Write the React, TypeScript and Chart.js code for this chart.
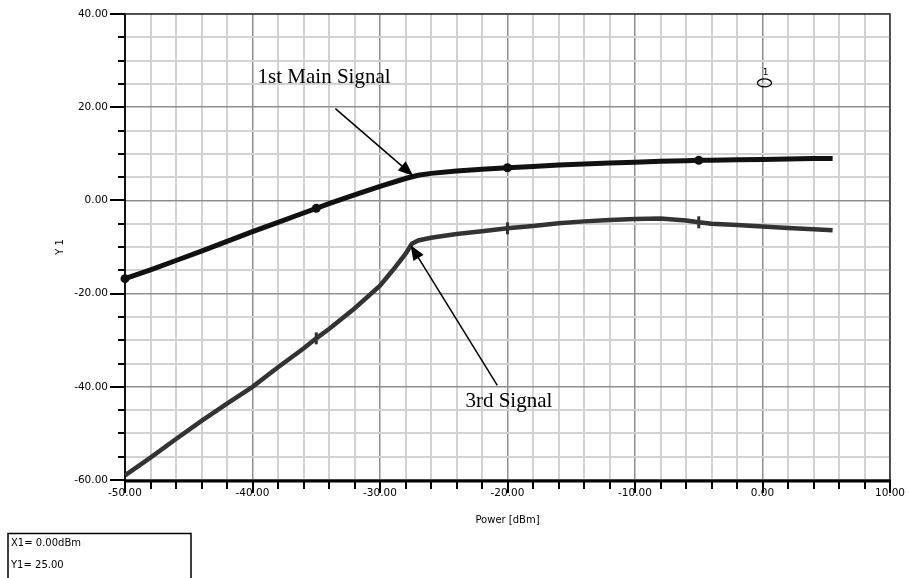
import React, { useEffect, useRef } from 'react';
import { Chart, registerables } from 'chart.js';

Chart.register(...registerables);

// ---- data ----
const mainPower = [-50, -48, -46, -44, -42, -40, -38, -36, -35, -34, -32, -30, -28, -27, -26, -24, -22, -20, -18, -16, -14, -12, -10, -8, -6, -5, -4, -2, 0, 2, 4, 5.5];
const mainY1 = [-16.8, -14.9, -12.9, -10.9, -8.8, -6.7, -4.7, -2.7, -1.7, -0.7, 1.2, 3.0, 4.7, 5.4, 5.8, 6.3, 6.7, 7.0, 7.3, 7.6, 7.8, 8.0, 8.2, 8.4, 8.5, 8.6, 8.6, 8.7, 8.8, 8.9, 9.0, 9.0];

const thirdPower = [-50, -48, -46, -44, -42, -40, -38, -36, -35, -34, -32, -30, -29, -28, -27.5, -27, -26, -24, -22, -20, -18, -16, -14, -12, -10, -8, -6, -5, -4, -2, 0, 2, 4, 5.5];
const thirdY1 = [-59, -55.2, -51.2, -47.3, -43.6, -40, -35.8, -31.8, -29.6, -27.6, -23.2, -18.3, -15.0, -11.5, -9.3, -8.6, -8.0, -7.2, -6.6, -6.0, -5.5, -4.9, -4.5, -4.2, -4.0, -3.9, -4.3, -4.7, -5.0, -5.3, -5.6, -5.9, -6.2, -6.4];

const mainMarkerPower = [-50, -35, -20, -5];
const thirdMarkerPower = [-35, -20, -5];

const xMin = -50, xMax = 10, xMajor = 10, xMinor = 2;
const yMin = -60, yMax = 40, yMajor = 20, yMinor = 5;

const markerName = ['1'];
const markerPower = [0];
const markerY1 = [25];
const readoutLines = ['X1= 0.00dBm', 'Y1= 25.00'];

const xTitle = 'Power [dBm]';
const yTitle = 'Y 1';

const annotationTexts = ['1st Main Signal', '3rd Signal'];
// annotation anchors in data units: text (x,y), arrow start (x,y), arrow tip (x,y)
const annotationTextX = [-39.6, -23.3];
const annotationTextY = [25.1, -44.4];
const arrowFromX = [-33.5, -20.8];
const arrowFromY = [19.7, -39.7];
const arrowToX = [-27.4, -27.6];
const arrowToY = [5.3, -9.6];

const TICK_FONT = 'DejaVu Sans';

const overlay = {
  id: 'overlay',
  beforeDatasetsDraw(chart: any) {
    const { ctx, chartArea: a, scales } = chart;
    const x = scales.x, y = scales.y;
    ctx.save();
    ctx.strokeStyle = '#000';
    ctx.lineWidth = 2;
    y.ticks.forEach((t: any) => {
      const py = Math.round(y.getPixelForValue(t.value));
      const major = t.value % yMajor === 0;
      ctx.beginPath();
      ctx.moveTo(a.left - (major ? 15 : 7), py);
      ctx.lineTo(a.left, py);
      ctx.stroke();
    });
    x.ticks.forEach((t: any) => {
      const px = Math.round(x.getPixelForValue(t.value));
      const major = t.value % xMajor === 0;
      ctx.beginPath();
      ctx.moveTo(px, a.bottom);
      ctx.lineTo(px, a.bottom + (major ? 13 : 9));
      ctx.stroke();
    });
    // frame
    ctx.strokeStyle = '#333';
    ctx.lineWidth = 1.5;
    ctx.beginPath();
    ctx.moveTo(a.left, a.top);
    ctx.lineTo(a.right, a.top);
    ctx.lineTo(a.right, a.bottom);
    ctx.stroke();
    ctx.strokeStyle = '#111';
    ctx.lineWidth = 2;
    ctx.beginPath();
    ctx.moveTo(a.left, a.top);
    ctx.lineTo(a.left, a.bottom);
    ctx.stroke();
    ctx.strokeStyle = '#000';
    ctx.lineWidth = 3;
    ctx.beginPath();
    ctx.moveTo(a.left - 1, a.bottom + 1);
    ctx.lineTo(a.right + 1, a.bottom + 1);
    ctx.stroke();
    ctx.restore();
  },
  afterDraw(chart: any) {
    const { ctx, scales } = chart;
    const x = scales.x, y = scales.y;
    ctx.save();
    // annotations
    ctx.fillStyle = '#000';
    ctx.font = '21px "Liberation Serif"';
    ctx.textBaseline = 'alphabetic';
    ctx.textAlign = 'left';
    annotationTexts.forEach((txt, i) => {
      ctx.fillText(txt, x.getPixelForValue(annotationTextX[i]), y.getPixelForValue(annotationTextY[i]));
      const x0 = x.getPixelForValue(arrowFromX[i]);
      const y0 = y.getPixelForValue(arrowFromY[i]);
      const x1 = x.getPixelForValue(arrowToX[i]);
      const y1 = y.getPixelForValue(arrowToY[i]);
      const ang = Math.atan2(y1 - y0, x1 - x0);
      const len = 15, hw = 6;
      ctx.strokeStyle = '#000';
      ctx.lineWidth = 1.5;
      ctx.beginPath();
      ctx.moveTo(x0, y0);
      ctx.lineTo(x1 - Math.cos(ang) * len * 0.8, y1 - Math.sin(ang) * len * 0.8);
      ctx.stroke();
      const bx = x1 - Math.cos(ang) * len, by = y1 - Math.sin(ang) * len;
      ctx.beginPath();
      ctx.moveTo(x1, y1);
      ctx.lineTo(bx + Math.sin(ang) * hw, by - Math.cos(ang) * hw);
      ctx.lineTo(bx - Math.sin(ang) * hw, by + Math.cos(ang) * hw);
      ctx.closePath();
      ctx.fill();
    });
    // marker symbol
    markerName.forEach((nm, i) => {
      const px = x.getPixelForValue(markerPower[i]);
      const py = y.getPixelForValue(markerY1[i]);
      ctx.strokeStyle = '#000';
      ctx.lineWidth = 1.3;
      ctx.beginPath();
      ctx.ellipse(px + 2, py - 1, 7, 4, 0, 0, Math.PI * 2);
      ctx.stroke();
      ctx.font = '9px "DejaVu Sans"';
      ctx.textAlign = 'center';
      ctx.textBaseline = 'middle';
      ctx.fillStyle = '#000';
      ctx.fillText(nm, px + 3, py - 11);
    });
    // readout box
    ctx.strokeStyle = '#000';
    ctx.lineWidth = 1.5;
    ctx.strokeRect(8, 533.5, 183, 60);
    ctx.font = '10px "DejaVu Sans"';
    ctx.textAlign = 'left';
    ctx.textBaseline = 'middle';
    readoutLines.forEach((ln, i) => ctx.fillText(ln, 11, 543 + i * 22));
    ctx.restore();
  },
};

export default function App() {
  const ref = useRef<HTMLCanvasElement | null>(null);
  useEffect(() => {
    if (!ref.current) return;
    const toXY = (xs: number[], ys: number[]) => xs.map((v, i) => ({ x: v, y: ys[i] }));
    const chart = new Chart(ref.current, {
      type: 'line',
      data: {
        datasets: [
          {
            label: 'Main',
            data: toXY(mainPower, mainY1),
            borderColor: '#111',
            backgroundColor: '#111',
            borderWidth: 5,
            tension: 0,
            pointStyle: 'circle',
            pointRadius: (c: any) => (mainMarkerPower.includes(c.raw?.x) ? 4.5 : 0),
            pointHoverRadius: 0,
            pointBorderWidth: 0,
            clip: false,
          } as any,
          {
            label: '3rd',
            data: toXY(thirdPower, thirdY1),
            borderColor: '#333',
            backgroundColor: '#333',
            borderWidth: 4.5,
            tension: 0,
            pointStyle: 'line',
            rotation: 90,
            pointRadius: (c: any) => (thirdMarkerPower.includes(c.raw?.x) ? 6 : 0),
            pointHoverRadius: 0,
            pointBorderWidth: 3,
            pointBorderColor: '#333',
            clip: false,
          } as any,
        ],
      },
      options: {
        responsive: false,
        animation: false,
        devicePixelRatio: 1,
        layout: { padding: { top: 14, right: 19, left: 0, bottom: 0 } },
        plugins: { legend: { display: false }, tooltip: { enabled: false } },
        events: [],
        scales: {
          x: {
            type: 'linear',
            min: xMin,
            max: xMax,
            afterFit: (s: any) => { s.height = 98; s.paddingLeft = 0; s.paddingRight = 0; },
            ticks: {
              stepSize: xMinor,
              autoSkip: false,
              maxRotation: 0,
              minRotation: 0,
              padding: 7,
              color: '#000',
              font: { family: TICK_FONT, size: 10.5 },
              callback: (v: any) => (Number(v) % xMajor === 0 ? Number(v).toFixed(2) : ''),
            },
            grid: {
              drawTicks: false,
              color: (c: any) => (c.tick && c.tick.value % xMajor === 0 ? '#8f8f8f' : '#d2d2d2'),
              lineWidth: (c: any) => (c.tick && c.tick.value % xMajor === 0 ? 1.5 : 2),
            },
            border: { display: false },
            title: {
              display: true,
              text: xTitle,
              color: '#000',
              font: { family: TICK_FONT, size: 10 },
              padding: { top: 4, bottom: 52 },
            },
          },
          y: {
            type: 'linear',
            min: yMin,
            max: yMax,
            afterFit: (s: any) => { s.width = 125; s.paddingTop = 0; s.paddingBottom = 0; },
            ticks: {
              stepSize: yMinor,
              autoSkip: false,
              padding: 17,
              color: '#000',
              font: { family: TICK_FONT, size: 10.5 },
              callback: (v: any) => (Number(v) % yMajor === 0 ? Number(v).toFixed(2) : ''),
            },
            grid: {
              drawTicks: false,
              color: (c: any) => (c.tick && c.tick.value % yMajor === 0 ? '#8f8f8f' : '#d2d2d2'),
              lineWidth: (c: any) => (c.tick && c.tick.value % yMajor === 0 ? 1.5 : 2),
            },
            border: { display: false },
            title: {
              display: true,
              text: yTitle,
              color: '#000',
              font: { family: TICK_FONT, size: 10 },
              padding: { top: 54, bottom: 4 },
            },
          },
        },
      },
      plugins: [overlay],
    } as any);
    return () => chart.destroy();
  }, []);
  return (
    <div style={{ position: 'absolute', left: 0, top: 0, width: 909, height: 578, background: '#fff' }}>
      <canvas ref={ref} width={909} height={578} style={{ display: 'block' }} />
    </div>
  );
}
